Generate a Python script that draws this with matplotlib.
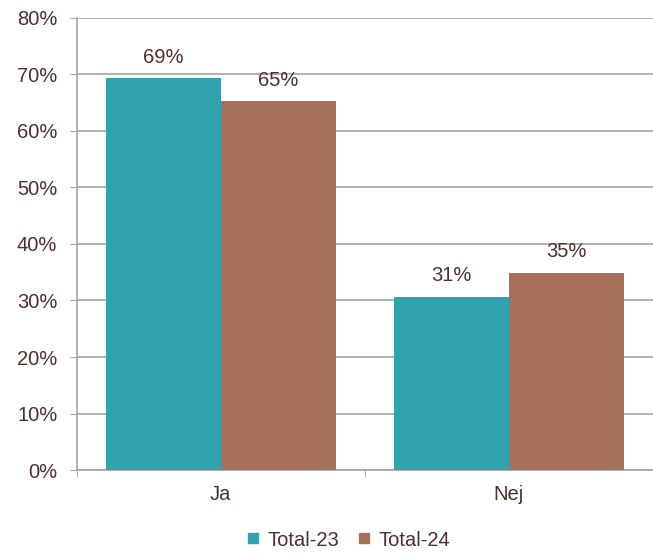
import numpy as np
import matplotlib.pyplot as plt
from matplotlib.lines import Line2D

plt.rcParams['font.family'] = ['Liberation Sans', 'DejaVu Sans']

categories = ['Ja', 'Nej']
series = ['Total-23', 'Total-24']
total_23 = [69.3, 30.7]
total_24 = [65.2, 34.9]
labels_23 = ['69%', '31%']
labels_24 = ['65%', '35%']
colors = ['#31A3AE', '#A8705A']
text_color = '#4F2E2E'
grid_color = '#A8A3A3'

fig = plt.figure(figsize=(6.53, 5.55), dpi=100)
ax = fig.add_axes([0.1175, 0.153, 0.8825, 0.815])

x = np.arange(len(categories))
w = 0.4
b1 = ax.bar(x - w / 2, total_23, w, color=colors[0], zorder=3)
b2 = ax.bar(x + w / 2, total_24, w, color=colors[1], zorder=3)

# value labels above the bars
for bars, labs in ((b1, labels_23), (b2, labels_24)):
    for bar, lab in zip(bars, labs):
        ax.annotate(lab, (bar.get_x() + bar.get_width() / 2, bar.get_height()),
                    xytext=(0, 11), textcoords='offset points', ha='center', va='baseline',
                    fontsize=14.5, color=text_color)

ax.set_ylim(0, 80)
ax.set_yticks(np.arange(0, 81, 10))
ax.set_yticklabels([f'{v}%' for v in range(0, 81, 10)])
ax.set_xlim(-0.5, 1.46)
ax.set_xticks(x)
ax.set_xticklabels(categories)
ax.set_xticks([-0.5, 0.5, 1.5], minor=True)

ax.yaxis.grid(True, color=grid_color, linewidth=1.2, zorder=0)
ax.set_axisbelow(True)
for s in ['top', 'right']:
    ax.spines[s].set_visible(False)
for s in ['left', 'bottom']:
    ax.spines[s].set_color(grid_color)
    ax.spines[s].set_linewidth(1.2)

ax.tick_params(axis='y', length=5, color=grid_color, labelsize=14.5, labelcolor=text_color, pad=9)
ax.tick_params(axis='x', which='major', length=0, labelsize=14.5, labelcolor=text_color, pad=11)
ax.tick_params(axis='x', which='minor', length=5, color=grid_color, direction='out')

handles = [Line2D([], [], marker='s', linestyle='none', markersize=7,
                  markerfacecolor=c, markeredgecolor=c) for c in colors]
fig.legend(handles, series, loc='center', bbox_to_anchor=(0.533, 0.027), ncol=2,
           frameon=False, fontsize=14.5, labelcolor=text_color, handletextpad=0.35,
           columnspacing=0.9, handlelength=0.7)

fig.savefig('out.png', dpi=100)
